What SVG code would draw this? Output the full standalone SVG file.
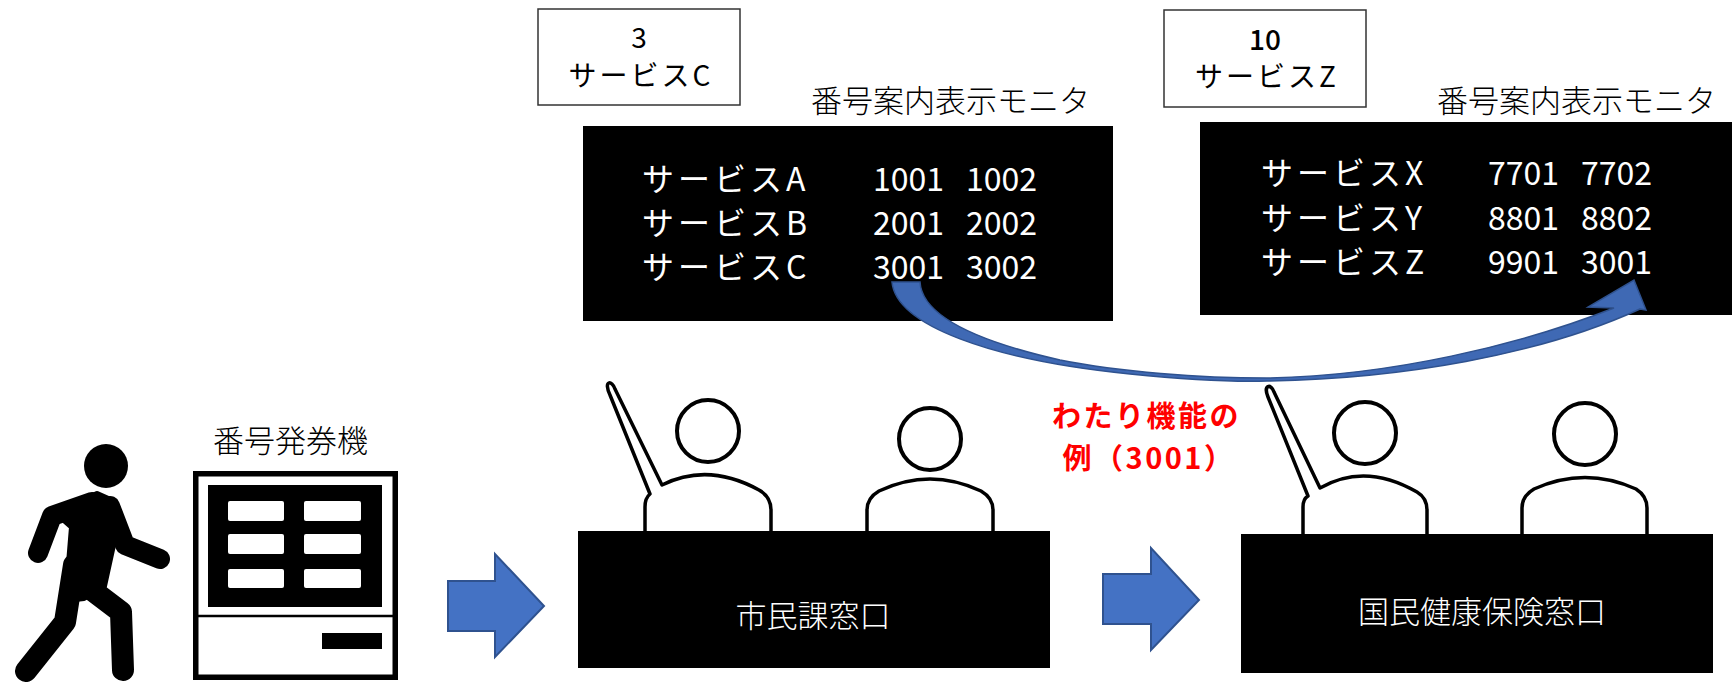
<svg xmlns="http://www.w3.org/2000/svg" width="1735" height="682" viewBox="0 0 1735 682">
  <style>
    .jp { font-family: "Noto Sans CJK JP", "Noto Sans", sans-serif; }
    .lbl { font-size: 31px; font-weight: 300; fill: #000; }
    .mon { fill: #000; }
    .row { font-size: 32px; fill: #fff; }
    .svc { letter-spacing: 4px; }
    .card { fill: #fff; stroke: #333; stroke-width: 1.5; }
    .cardtxt { font-size: 28px; fill: #000; text-anchor: middle; }
    .desk { fill: #000; }
    .desktxt { font-size: 31px; font-weight: 300; fill: #fff; text-anchor: middle; }
    .clerk { fill: #fff; stroke: #000; stroke-width: 3.5; stroke-linejoin: round; }
    .head { fill: #fff; stroke: #000; stroke-width: 4; }
    .step { fill: #4472C4; stroke: #2F528F; stroke-width: 2; }
    .note { font-size: 29px; font-weight: 700; fill: #FF0000; text-anchor: middle; letter-spacing: 2.5px; }
  </style>

  <!-- visitor pictogram -->
  <g id="visitor" fill="#000" stroke="#000" stroke-linecap="round" stroke-linejoin="round">
    <circle cx="106" cy="466" r="22" stroke="none"/>
    <polygon points="55,512 97,494 115,502 113,545 104,586 84,598 66,600 72,527" stroke-width="6"/>
    <polyline points="92,502 52,516 38,553" fill="none" stroke-width="20"/>
    <polyline points="110,506 125,545 160,559" fill="none" stroke-width="20"/>
    <polyline points="74,565 65,622 26,671" fill="none" stroke-width="22"/>
    <polyline points="92,590 121,612 123,670" fill="none" stroke-width="22"/>
  </g>

  <!-- ticket machine -->
  <g id="ticket-machine">
    <text class="jp lbl" x="213" y="452">番号発券機</text>
    <rect x="195.75" y="473.75" width="199.5" height="203.5" fill="#fff" stroke="#000" stroke-width="5.5"/>
    <rect x="208" y="485" width="174" height="122" fill="#000"/>
    <g fill="#fff">
      <rect x="228" y="501" width="56" height="20" rx="2"/>
      <rect x="304" y="501" width="57" height="20" rx="2"/>
      <rect x="228" y="534" width="56" height="20" rx="2"/>
      <rect x="304" y="534" width="57" height="20" rx="2"/>
      <rect x="228" y="569" width="56" height="19" rx="2"/>
      <rect x="304" y="569" width="57" height="19" rx="2"/>
    </g>
    <line x1="196" y1="616" x2="395" y2="616" stroke="#000" stroke-width="2.5"/>
    <rect x="322" y="633" width="60" height="16" fill="#000"/>
  </g>

  <!-- called-number card, citizen desk -->
  <g id="card-c">
    <rect class="card" x="538" y="9" width="202" height="96"/>
    <text class="jp cardtxt" x="639" y="48">3</text>
    <text class="jp cardtxt" x="641" y="86" style="letter-spacing:3px">サービスC</text>
  </g>

  <!-- display monitor, citizen desk -->
  <g id="monitor-left">
    <text class="jp lbl" x="811" y="112">番号案内表示モニタ</text>
    <rect class="mon" x="583" y="126" width="530" height="195"/>
    <g class="jp row">
      <text class="svc" x="642" y="191">サービスA</text>
      <text x="873" y="191">1001</text>
      <text x="966" y="191">1002</text>
      <text class="svc" x="642" y="235">サービスB</text>
      <text x="873" y="235">2001</text>
      <text x="966" y="235">2002</text>
      <text class="svc" x="642" y="279">サービスC</text>
      <text x="873" y="279">3001</text>
      <text x="966" y="279">3002</text>
    </g>
  </g>

  <!-- called-number card, health insurance desk -->
  <g id="card-z">
    <rect class="card" x="1164" y="10" width="202" height="97"/>
    <text class="jp cardtxt" x="1265" y="50" font-weight="500">10</text>
    <text class="jp cardtxt" x="1267" y="87" style="letter-spacing:3px">サービスZ</text>
  </g>

  <!-- display monitor, health insurance desk -->
  <g id="monitor-right">
    <text class="jp lbl" x="1437" y="112">番号案内表示モニタ</text>
    <rect class="mon" x="1200" y="122" width="532" height="193"/>
    <g class="jp row">
      <text class="svc" x="1261" y="185">サービスX</text>
      <text x="1488" y="185">7701</text>
      <text x="1581" y="185">7702</text>
      <text class="svc" x="1261" y="230">サービスY</text>
      <text x="1488" y="230">8801</text>
      <text x="1581" y="230">8802</text>
      <text class="svc" x="1261" y="274">サービスZ</text>
      <text x="1488" y="274">9901</text>
      <text x="1581" y="274">3001</text>
    </g>
  </g>

  <!-- citizen affairs counter -->
  <g id="desk-citizen">
    <path class="clerk" d="M645,533 V507 Q645,498 650,494 L610,395 C603,380 612,380 615,389 L662,485 Q708,462 759,490 Q771,497 771,510 V533"/>
    <circle class="head" cx="708" cy="431" r="31"/>
    <path class="clerk" d="M867,533 V510 Q867,498 879,491 Q930,467 981,491 Q993,498 993,510 V533"/>
    <circle class="head" cx="930" cy="439" r="31"/>
    <rect class="desk" x="578" y="531" width="472" height="137"/>
    <text class="jp desktxt" x="813" y="627">市民課窓口</text>
  </g>

  <!-- national health insurance counter -->
  <g id="desk-health">
    <path class="clerk" d="M1303,536 V507 Q1303,499 1308,496 L1268,397 C1263,385 1271,383 1274,392 L1320,488 Q1365,462 1417,492 Q1427,498 1427,510 V536"/>
    <circle class="head" cx="1365" cy="433" r="31"/>
    <path class="clerk" d="M1522,536 V508 Q1522,496 1534,489 Q1585,466 1636,489 Q1647,496 1647,508 V536"/>
    <circle class="head" cx="1585" cy="434" r="31"/>
    <rect class="desk" x="1241" y="534" width="472" height="139"/>
    <text class="jp desktxt" x="1482" y="623">国民健康保険窓口</text>
  </g>

  <!-- flow arrows and the number hand-over -->
  <g id="connectors">
    <polygon class="step" points="448,581 495,581 495,554 544,606 495,657 495,631 448,631"/>
    <polygon class="step" points="1103,574 1151,574 1151,548 1199,600 1151,650 1151,624 1103,624"/>
    <path fill="#3F69B4" stroke="#2F528F" stroke-width="1.5" stroke-linejoin="miter"
          d="M892,282 C896,325 990,360 1130,374 C1190,380 1235,382 1267,381 C1400,379 1540,355 1640,309 L1646,310 L1634,280 L1588,307 L1614,308 C1520,345 1390,376 1267,378 C1200,378 1120,372 1060,360 C985,343 922,318 920,282 Z"/>
    <text class="jp note">
      <tspan x="1151" y="427">わたり機能の</tspan>
      <tspan x="1149" y="469">例（3001）</tspan>
    </text>
  </g>
</svg>
